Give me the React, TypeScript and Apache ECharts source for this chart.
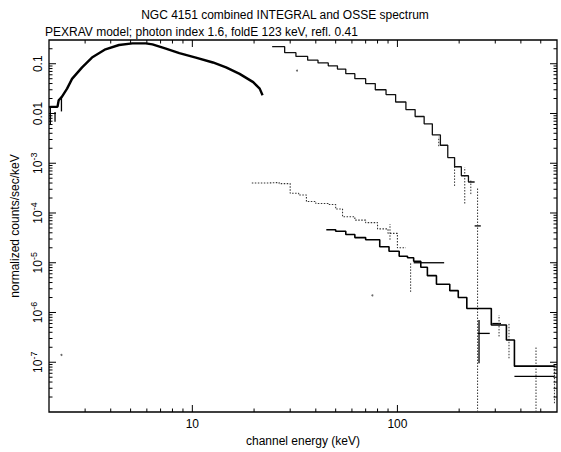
import React, { useEffect, useRef } from "react";
import * as echarts from "echarts";

const TITLE = "NGC 4151 combined INTEGRAL and OSSE spectrum";
const SUBTITLE = "PEXRAV model; photon index 1.6, foldE 123 keV, refl. 0.41";
const X_NAME = "channel energy (keV)";
const Y_NAME = "normalized counts/sec/keV";

const X_MIN = 2;
const X_MAX = 600;
const Y_MIN = 1e-8;
const Y_MAX = 0.3;

const xTickValues = [10, 100];
const xTickLabels = ["10", "100"];
const yTickValues = [0.1, 0.01, 1e-3, 1e-4, 1e-5, 1e-6, 1e-7];
const yTickLabels = ["0.1", "0.01", "10^-3", "10^-4", "10^-5", "10^-6", "10^-7"];

// JEM-X low-energy spectrum (keV, counts/s/keV)
const jemxEnergy = [2.0, 2.05, 2.2, 2.23, 2.31, 2.45, 2.59, 2.9, 3.24, 3.77, 4.39, 5.1, 5.93, 6.39, 7.43, 8.64, 10.4, 12.6, 14.6, 17.0, 19.8, 21.3, 22.0];
const jemxFlux = [0.0134, 0.0136, 0.0136, 0.0185, 0.0216, 0.0316, 0.0497, 0.0845, 0.133, 0.195, 0.238, 0.257, 0.257, 0.245, 0.201, 0.163, 0.133, 0.106, 0.0845, 0.0625, 0.0427, 0.0316, 0.0232];

// ISGRI upper spectrum, binned (edges in keV)
const isgriEdges = [24.5, 28.2, 32, 36.5, 41, 46, 51, 56, 62, 70, 78, 88, 98, 110, 122, 135, 148, 162, 176, 190, 205, 222, 238];
const isgriFlux = [0.22, 0.167, 0.14, 0.118, 0.104, 0.091, 0.078, 0.063, 0.05, 0.04, 0.03, 0.024, 0.017, 0.012, 0.0087, 0.0062, 0.0037, 0.0023, 0.0013, 0.00085, 0.00056, 0.00042];

// lower dotted spectrum, binned
const lowDotEdges = [19.5, 23, 26.5, 30, 33, 36, 40, 46, 50, 54, 62, 70, 80, 90, 100, 110];
const lowDotFlux = [4.0e-4, 4.1e-4, 3.9e-4, 2.5e-4, 2.3e-4, 1.7e-4, 1.55e-4, 1.48e-4, 1.2e-4, 8.4e-5, 7.2e-5, 6.4e-5, 4.8e-5, 3.9e-5, 2.0e-5];

// lower solid spectrum, binned
const lowSolidEdges = [45, 50, 56, 62, 70, 82, 91, 102, 112, 120, 130, 140, 155, 180, 198, 218, 287, 340, 372, 590];
const lowSolidFlux = [4.6e-5, 4.3e-5, 3.7e-5, 3.2e-5, 2.9e-5, 2.1e-5, 1.7e-5, 1.35e-5, 1.26e-5, 1.07e-5, 8.1e-6, 5.5e-6, 3.7e-6, 2.75e-6, 2.0e-6, 1.2e-6, 5.6e-7, 2.8e-7, 8.3e-8];

// separate horizontal bins: [eLo, eHi, flux]
const extraBinLo = [120, 238, 247, 290, 372, 372];
const extraBinHi = [169, 255, 282, 320, 584, 584];
const extraBinFlux = [1.0e-5, 5.5e-5, 3.8e-7, 6.0e-7, 5.2e-8, 8.3e-8];

// vertical error bars: [energy, low, high, dotted]
const errE = [2.03, 2.14, 2.3, 159, 190, 213, 228, 246, 92, 116, 250, 313, 350, 474, 583];
const errLo = [0.0059, 0.0068, 0.011, 2.2e-3, 3.5e-4, 1.55e-4, 2.4e-4, 1e-8, 2.9e-5, 2.6e-6, 9.5e-8, 3.3e-7, 1.2e-7, 1e-8, 1.5e-8];
const errHi = [0.0136, 0.0107, 0.022, 3.4e-3, 1.05e-3, 8.3e-4, 4.8e-4, 3.3e-4, 6.0e-5, 1.0e-5, 7.1e-7, 8.9e-7, 5.9e-7, 2.1e-7, 7.6e-8];
const errDotted = [0, 0, 0, 1, 1, 1, 1, 1, 1, 1, 0, 1, 1, 1, 1];

// stray single points
const strayE = [32.4, 2.3, 75.5];
const strayF = [0.073, 1.4e-7, 2.2e-6];

const FONT = "'Liberation Sans', Arial, Helvetica, sans-serif";

function stepData(edges: number[], flux: number[]) {
  const out: number[][] = [];
  for (let i = 0; i < flux.length; i++) {
    out.push([edges[i], flux[i]]);
    out.push([edges[i + 1], flux[i]]);
  }
  return out;
}

function buildTicks() {
  const items: number[][] = [];
  for (let d = 0; d <= 2; d++) {
    for (let m = 1; m <= 9; m++) {
      const v = m * Math.pow(10, d);
      if (v <= X_MIN || v >= X_MAX) continue;
      items.push([v, 1e-3, m === 1 ? 1 : 0]);
    }
  }
  for (let d = -8; d <= -1; d++) {
    for (let m = 1; m <= 9; m++) {
      const v = m * Math.pow(10, d);
      if (v <= Y_MIN * 1.0001 || v >= Y_MAX) continue;
      items.push([10, v, m === 1 ? 3 : 2]);
    }
  }
  return items;
}

export default function App() {
  const ref = useRef<HTMLDivElement>(null);
  useEffect(() => {
    if (!ref.current) return;
    const chart = echarts.init(ref.current, null, { renderer: "svg" });

    const segs: number[][] = [];
    for (let i = 0; i < extraBinLo.length; i++) {
      segs.push([extraBinLo[i], extraBinFlux[i], extraBinHi[i], extraBinFlux[i], 0]);
    }
    for (let i = 0; i < errE.length; i++) {
      segs.push([errE[i], errLo[i], errE[i], errHi[i], errDotted[i]]);
    }

    const yFormatter = (v: number) => {
      const i = yTickValues.findIndex((t) => Math.abs(Math.log10(t) - Math.log10(v)) < 1e-6);
      if (i < 0) return "";
      const s = yTickLabels[i];
      if (s.startsWith("10^")) return `{b|10}{s|${s.slice(3)}}`;
      return `{b|${s}}`;
    };
    const xFormatter = (v: number) => {
      const i = xTickValues.findIndex((t) => Math.abs(Math.log10(t) - Math.log10(v)) < 1e-6);
      return i < 0 ? "" : xTickLabels[i];
    };

    chart.setOption({
      animation: false,
      backgroundColor: "#fff",
      textStyle: { fontFamily: FONT },
      graphic: [
        { type: "text", x: 285, y: 15, style: { text: TITLE, fontSize: 12, fontFamily: FONT, fill: "#000", align: "center", verticalAlign: "middle" } },
        { type: "text", x: 45, y: 32, style: { text: SUBTITLE, fontSize: 12, fontFamily: FONT, fill: "#000", align: "left", verticalAlign: "middle" } },
      ],
      grid: { left: 49, right: 4, top: 40, bottom: 36, show: true, borderColor: "#000", borderWidth: 1.3, backgroundColor: "transparent" },
      xAxis: {
        type: "log", logBase: 10, min: X_MIN, max: X_MAX,
        axisLine: { show: false }, axisTick: { show: false }, splitLine: { show: false },
        axisLabel: { formatter: xFormatter, color: "#000", fontSize: 12, margin: 6, fontFamily: FONT },
        name: X_NAME, nameLocation: "middle", nameGap: 23,
        nameTextStyle: { color: "#000", fontSize: 12, fontFamily: FONT },
      },
      yAxis: {
        type: "log", logBase: 10, min: Y_MIN, max: Y_MAX, splitNumber: 8,
        axisLine: { show: false }, axisTick: { show: false }, splitLine: { show: false },
        axisLabel: {
          formatter: yFormatter, rotate: 90, margin: 5, color: "#000",
          rich: {
            b: { fontSize: 12, fontFamily: FONT, color: "#000", lineHeight: 15, verticalAlign: "bottom" },
            s: { fontSize: 9, fontFamily: FONT, color: "#000", lineHeight: 10, verticalAlign: "top" },
          },
        },
        name: Y_NAME, nameLocation: "middle", nameGap: 26, nameRotate: 90,
        nameTextStyle: { color: "#000", fontSize: 12, fontFamily: FONT },
      },
      series: [
        {
          type: "line", name: "JEM-X", data: jemxEnergy.map((e, i) => [e, jemxFlux[i]]),
          showSymbol: false, lineStyle: { color: "#000", width: 2.4 }, silent: true,
        },
        {
          type: "line", name: "ISGRI", data: stepData(isgriEdges, isgriFlux),
          showSymbol: false, lineStyle: { color: "#111", width: 1.3 }, silent: true,
        },
        {
          type: "line", name: "low dotted", data: stepData(lowDotEdges, lowDotFlux),
          showSymbol: false, lineStyle: { color: "#333", width: 1.1, type: [1.5, 1.5] }, silent: true,
        },
        {
          type: "line", name: "low solid", data: stepData(lowSolidEdges, lowSolidFlux),
          showSymbol: false, lineStyle: { color: "#000", width: 1.6 }, silent: true,
        },
        {
          type: "custom", name: "segments", coordinateSystem: "cartesian2d", data: segs,
          encode: { x: [0, 2], y: [1, 3] }, silent: true, clip: true,
          renderItem: (params: any, api: any) => {
            const p1 = api.coord([api.value(0), api.value(1)]);
            const p2 = api.coord([api.value(2), api.value(3)]);
            const dotted = api.value(4) === 1;
            return {
              type: "line",
              shape: { x1: p1[0], y1: p1[1], x2: p2[0], y2: p2[1] },
              style: { stroke: dotted ? "#333" : "#000", lineWidth: dotted ? 1 : 1.3, lineDash: dotted ? [1.5, 1.5] : null },
            };
          },
        },
        {
          type: "scatter", name: "stray", data: strayE.map((e, i) => [e, strayF[i]]),
          symbolSize: 2, itemStyle: { color: "#444" }, silent: true,
        },
        {
          type: "custom", name: "ticks", coordinateSystem: "cartesian2d", data: buildTicks(),
          encode: { x: 0, y: 1 }, silent: true,
          renderItem: (params: any, api: any) => {
            const cs = params.coordSys;
            const kind = api.value(2);
            const st = { stroke: "#000", lineWidth: 1 };
            if (kind < 2) {
              const px = api.coord([api.value(0), 1e-3])[0];
              const L = kind === 1 ? 7 : 3.5;
              const b = cs.y + cs.height;
              return {
                type: "group",
                children: [
                  { type: "line", shape: { x1: px, y1: b, x2: px, y2: b - L }, style: st },
                  { type: "line", shape: { x1: px, y1: cs.y, x2: px, y2: cs.y + L }, style: st },
                ],
              };
            }
            const py = api.coord([10, api.value(1)])[1];
            const L = kind === 3 ? 7 : 3.5;
            const r = cs.x + cs.width;
            return {
              type: "group",
              children: [
                { type: "line", shape: { x1: cs.x, y1: py, x2: cs.x + L, y2: py }, style: st },
                { type: "line", shape: { x1: r, y1: py, x2: r - L, y2: py }, style: st },
              ],
            };
          },
        },
      ],
    });
    return () => chart.dispose();
  }, []);
  return <div ref={ref} style={{ position: "fixed", left: 0, top: 0, width: 561, height: 452, background: "#fff" }} />;
}
